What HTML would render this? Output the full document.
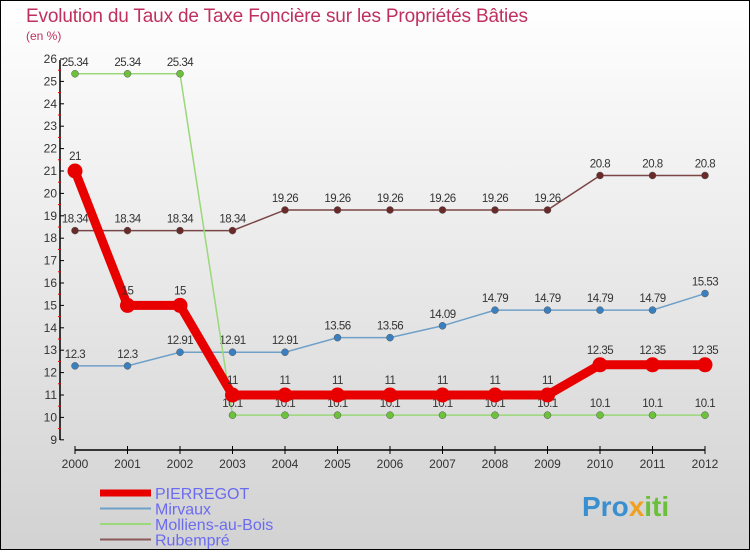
<!DOCTYPE html>
<html><head><meta charset="utf-8"><style>
body{margin:0;width:750px;height:550px;overflow:hidden;font-family:"Liberation Sans",sans-serif}
</style></head><body>
<svg id="chart" width="750" height="550" xmlns="http://www.w3.org/2000/svg">
<defs><linearGradient id="bg" x1="0" y1="0" x2="0" y2="1"><stop offset="0" stop-color="#ffffff"/><stop offset="1" stop-color="#d2d2d2"/></linearGradient></defs>
<rect x="0.5" y="0.5" width="749" height="549" fill="url(#bg)" stroke="#000"/>
<text x="26" y="22" font-size="19" fill="#c0305f" textLength="502">Evolution du Taux de Taxe Foncière sur les Propriétés Bâties</text>
<text x="26" y="40" font-size="12" fill="#c0305f">(en %)</text>
<g id="axes"></g><g id="series"></g><g id="legend"></g>
<text x="582" y="516" font-size="28" font-weight="bold" fill="#3a8fd0">Pro<tspan fill="#f0a020">x</tspan><tspan fill="#6cbf3a">iti</tspan></text>
</svg>
<script>
const years=[2000,2001,2002,2003,2004,2005,2006,2007,2008,2009,2010,2011,2012];
const pierregot=[21,15,15,11,11,11,11,11,11,11,12.35,12.35,12.35];
const mirvaux=[12.3,12.3,12.91,12.91,12.91,13.56,13.56,14.09,14.79,14.79,14.79,14.79,15.53];
const molliens=[25.34,25.34,25.34,10.1,10.1,10.1,10.1,10.1,10.1,10.1,10.1,10.1,10.1];
const rubempre=[18.34,18.34,18.34,18.34,19.26,19.26,19.26,19.26,19.26,19.26,20.8,20.8,20.8];
const yTicks=[9,10,11,12,13,14,15,16,17,18,19,20,21,22,23,24,25,26];
const NS="http://www.w3.org/2000/svg";
const X=i=>75+i*52.5, Y=v=>439.8-(v-9)*22.4;
function mk(t,a,p){const e=document.createElementNS(NS,t);for(const k in a)e.setAttribute(k,a[k]);p.appendChild(e);return e;}
const ax=document.getElementById('axes');
let l=mk('line',{x1:60,y1:60,x2:60,y2:440,stroke:'#000','stroke-width':1.5},ax);


yTicks.forEach(v=>{
 mk('line',{x1:60,y1:Y(v),x2:64,y2:Y(v),stroke:'#000'},ax);
 if(v<26) mk('line',{x1:58,y1:Y(v+0.5),x2:61,y2:Y(v+0.5),stroke:'#e00'},ax);
 const t=mk('text',{x:57,y:Y(v)+4,'font-size':12,fill:'#333','text-anchor':'end'},ax);t.textContent=v;
 
 
});
l=mk('line',{x1:75,y1:450,x2:705,y2:450,stroke:'#000','stroke-width':1.5},ax);


years.forEach((y,i)=>{
 mk('line',{x1:X(i),y1:446,x2:X(i),y2:454,stroke:'#000'},ax);
 const t=mk('text',{x:X(i),y:468,'font-size':12,fill:'#333','text-anchor':'middle'},ax);t.textContent=y;
 
 
});
const sr=document.getElementById('series');
const defs=[
 {n:'rubempre',d:rubempre,c:'#6b2a2a',lc:'#7a4545',w:1.5,r:3.5},
 {n:'mirvaux',d:mirvaux,c:'#3a80c0',lc:'#6fa0c8',w:1.5,r:3.5},
 {n:'molliens',d:molliens,c:'#6cc23a',lc:'#9ad878',w:1.5,r:3.5},
 {n:'pierregot',d:pierregot,c:'#e80000',lc:'#e80000',w:9,r:7.5}];
defs.forEach(s=>{
 const g=mk('g',{},sr);
 
 
 mk('polyline',{points:s.d.map((v,i)=>X(i)+','+Y(v)).join(' '),fill:'none',stroke:s.lc,'stroke-width':s.w},g);
 s.d.forEach((v,i)=>{
  const c=mk('circle',{cx:X(i),cy:Y(v),r:s.r,fill:s.c,stroke:s.n=='pierregot'?'none':'#555','stroke-width':0.5},g);
  
  
  const t=mk('text',{x:X(i),y:Y(v)-(s.n=='pierregot'?11:8),'font-size':11.5,fill:'#333','text-anchor':'middle','letter-spacing':'-0.5'},g);t.textContent=v;
  
  
 });
});
const lg=document.getElementById('legend');
[['PIERREGOT','#e80000',7],['Mirvaux','#6fa0c8',2],['Molliens-au-Bois','#9ad878',2],['Rubempré','#8a5a5a',2]].forEach((e,i)=>{
 const y=493+i*15.5;
 const g=mk('g',{},lg);
 
 
 mk('line',{x1:100,y1:y,x2:151,y2:y,stroke:e[1],'stroke-width':e[2]},g);
 const t=mk('text',{x:155,y:y+6,'font-size':16,fill:'#6b6bf0'},g);t.textContent=e[0];
});
</script>
</body></html>
